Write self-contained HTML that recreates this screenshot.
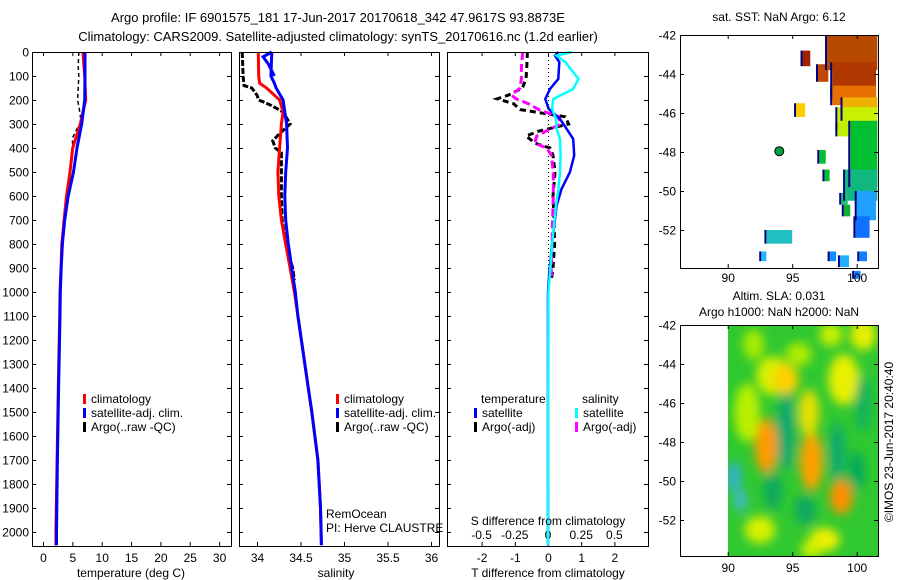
<!DOCTYPE html>
<html><head><meta charset="utf-8"><style>
body{margin:0;background:#fff}
svg{display:block;font-family:"Liberation Sans",sans-serif}
text{fill:#000}
</style></head><body>
<svg id="fig" width="900" height="580" xmlns="http://www.w3.org/2000/svg">
<defs>
<filter id="blur" x="-50%" y="-50%" width="200%" height="200%"><feGaussianBlur stdDeviation="5"/></filter>
<clipPath id="m2clip"><rect x="728" y="325" width="150" height="231"/></clipPath>
</defs>
<text x="338" y="22" font-size="13" text-anchor="middle">Argo profile: IF 6901575_181 17-Jun-2017 20170618_342 47.9617S 93.8873E</text>
<text x="338" y="41" font-size="13" text-anchor="middle">Climatology: CARS2009. Satellite-adjusted climatology: synTS_20170616.nc (1.2d earlier)</text>
<g id="plots"></g>
</svg>
<script>
// ---- data ----
const depthTicks=[0,100,200,300,400,500,600,700,800,900,1000,1100,1200,1300,1400,1500,1600,1700,1800,1900,2000];
const tempTicks=[0,5,10,15,20,25,30];
const salTicks=[34,34.5,35,35.5,36];
const salTickLabels=["34","34.5","35","35.5","36"];
const tdTicks=[-2,-1,0,1,2];
const sdTicks=[-0.5,-0.25,0,0.25,0.5];
const sdTickLabels=["-0.5","-0.25","0","0.25","0.5"];
const climDepth=[0,100,200,300,400,500,600,700,800,900,1000,1100,1400,1700,2000,2055];
const climTemp=[6.8,7.1,7.27,6.36,5.06,4.6,4.0,3.6,3.2,3.07,2.9,2.85,2.6,2.4,2.2,2.2];
const satTemp=[7.15,7.15,7.1,6.6,5.8,5.2,4.3,3.7,3.3,3.1,2.95,2.9,2.65,2.45,2.3,2.3];
const argoDepth=[0,60,100,150,200,240,290,320,360,400,450,500,600,700,800,900,950];
const argoTemp=[6.1,6.0,6.1,6.0,5.9,6.2,6.5,5.8,5.0,5.1,4.8,4.6,4.1,3.6,3.25,3.1,3.05];
const climSalDepth=[0,100,130,150,200,250,300,400,500,600,700,800,900,1000,1100,1400,1500,1700,1900,2055];
const climSal=[34.015,34.02,34.03,34.11,34.26,34.30,34.28,34.26,34.24,34.25,34.28,34.33,34.38,34.43,34.47,34.59,34.63,34.70,34.73,34.74];
const satSal=[34.17,34.16,34.2,34.22,34.30,34.32,34.34,34.35,34.33,34.32,34.33,34.36,34.40,34.44,34.47,34.59,34.63,34.70,34.73,34.74];
const satSalTopDepth=[0,20,50,100];
const satSalTop=[34.17,34.07,34.13,34.2];
const argoSalDepth=[0,100,140,150,180,200,220,250,300,340,370,400,420,500,600,700,800,900,950];
const argoSal=[33.83,33.84,33.85,33.94,34.0,34.02,34.15,34.30,34.38,34.26,34.18,34.21,34.28,34.28,34.28,34.29,34.33,34.41,34.43];
const diffDepth=[0,15,42,112,154,196,237,279,320,362,431,501,570,640,779,918,1000,2055];
const satTdiff=[0.31,0.21,0.34,0.31,0.06,-0.08,0.02,0.36,0.56,0.76,0.79,0.66,0.41,0.26,0.14,0.04,0.0,0.0];
const satSdiff=[0.18,0.065,0.13,0.23,0.19,0.04,0.03,0.06,0.065,0.09,0.095,0.09,0.078,0.06,0.035,0.015,0.003,0.0];
const argoDiffDepth=[0,60,110,150,180,195,215,240,270,300,330,350,380,400,430,500,600,700,800,900,950];
const argoTdiff=[-0.62,-0.64,-0.66,-0.77,-1.2,-1.53,-1.04,-0.84,0.52,0.62,-0.28,-0.66,-0.39,0.06,0.15,0.21,0.15,0.18,0.2,0.15,0.1];
const argoSdiff=[-0.19,-0.2,-0.2,-0.21,-0.275,-0.24,-0.15,-0.07,0.08,0.095,-0.015,-0.085,-0.1,-0.01,0.025,0.04,0.04,0.035,0.03,0.025,0.025];
const lonTicks=[90,95,100];
const latTicks=[-42,-44,-46,-48,-50,-52];
const argoLon=[94.0], argoLat=[-47.96];
// SST patches: lon0, lat0(top), lon1, lat1(bottom), colour
const sstLon0=[97.7,98.1,98.1,98.9,98.5,99.5,99.1,100.0,99.9,95.3,95.8,97.0,98.5,97.1,97.5,98.8,99.0,93.0,92.6,97.9,98.7,100.2,99.8];
const sstLat0=[-42.0,-43.4,-44.6,-45.2,-45.7,-46.4,-48.9,-50.0,-51.3,-45.5,-42.8,-43.5,-46.5,-47.9,-48.9,-50.1,-50.7,-52.0,-53.1,-53.1,-53.3,-53.1,-54.1];
const sstLon1=[101.6,101.5,101.5,101.6,101.6,101.6,101.6,101.5,101.0,96.0,96.4,97.8,99.5,97.6,97.9,99.3,99.5,95.0,93.0,98.4,99.4,100.8,100.3];
const sstLat1=[-43.8,-45.3,-45.6,-46.4,-46.9,-49.8,-50.5,-51.5,-52.4,-46.2,-43.6,-44.4,-47.2,-48.6,-49.5,-50.7,-51.3,-52.7,-53.6,-53.6,-53.9,-53.6,-54.5];
const sstCol=["#b84a00","#b03800","#e87000","#f0b000","#c8f000","#00c030","#10b880","#20a0ff","#1070ff","#ffcc00","#a02000","#c04800","#c0f000","#00c030","#00c030","#20c070","#10b030","#20c0c0","#20b8ff","#1090ff","#20b0ff","#1080ff","#1080ff"];
// SLA blobs: lon, lat, rx(deg), ry(deg), colour
const slaLon=[93.0,93.5,94.5,96.5,96.3,98.8,99.0,92.5,100.5,90.5,91.0,94.5,98.5,95.5,97.5,100.5,91.5,96.0,100.0,92.0,98.0,93.5,96.5];
const slaLat=[-48.2,-44.6,-44.8,-49.0,-46.5,-50.8,-44.8,-52.5,-42.5,-49.8,-51.0,-47.5,-48.5,-43.5,-53.0,-46.0,-46.5,-51.5,-49.5,-43.0,-42.5,-50.5,-53.5];
const slaRx=[0.9,1.3,1.0,0.9,0.8,0.9,1.2,1.2,1.0,0.5,0.5,0.7,0.6,1.0,1.2,0.6,1.0,0.8,0.6,0.8,0.9,0.7,0.8];
const slaRy=[1.4,1.0,0.8,1.5,1.2,0.9,1.3,0.7,0.8,0.8,0.6,2.0,1.5,0.6,0.6,1.5,1.5,0.8,1.0,0.8,0.6,1.0,0.5];
const slaCol=["#ff9a00","#d8f000","#ffd000","#ffa000","#e8e000","#ff9000","#e8f000","#d8f000","#e8f000","#30b0e0","#40b8c8","#10a870","#10a870","#b0ec00","#f0f000","#10b060","#b8f000","#10a860","#00a860","#a8ec00","#c8f000","#10a860","#d0f000"];

// ---- helpers ----
const NS="http://www.w3.org/2000/svg";
const root=document.getElementById('plots');
function mk(tag,attrs,parent,txt){const e=document.createElementNS(NS,tag);for(const k in attrs)e.setAttribute(k,attrs[k]);if(txt!==undefined)e.textContent=txt;(parent||root).appendChild(e);return e;}
const PT=52,PB=546;
const yD=d=>PT+(d)*0.24;
const xT=t=>43+t*5.87;
const xS=s=>257+(s-34)*87;
const xTd=t=>548+t*33.2;
const xSd=s=>548+s*4*33.2;
const mX=lon=>727.7+(lon-90)*12.9;
const m1Y=lat=>35+(-42-lat)*19.5;
const m2Y=lat=>325+(-42-lat)*19.5;

function line(xs,ys,col,w,dash,name){
  const p=xs.map((x,i)=>x.toFixed(1)+','+ys[i].toFixed(1)).join(' ');
  const e=mk('polyline',{points:p,fill:'none',stroke:col,'stroke-width':w,'stroke-dasharray':dash||'none'});
  
  
  return e;
}
function frame(x0,x1,y0,y1,name){
  const e=mk('rect',{x:x0+.5,y:y0+.5,width:x1-x0,height:y1-y0,fill:'none',stroke:'#000','stroke-width':1});
  
  
}
function depthAxis(x0,x1,labels){
  depthTicks.forEach(d=>{const y=yD(d)+.5;
    mk('line',{x1:x0,y1:y,x2:x0+4,y2:y,stroke:'#000'});
    mk('line',{x1:x1-4,y1:y,x2:x1,y2:y,stroke:'#000'});
    if(labels){const t=mk('text',{x:x0-3,y:y+4,'font-size':12,'text-anchor':'end'},root,String(d));
      
      }
  });
}
function xAxis(ticks,labels,fx,y0,y1,ly){
  ticks.forEach((v,i)=>{const x=fx(v)+.5;
    mk('line',{x1:x,y1:y1,x2:x,y2:y1-4,stroke:'#000'});
    mk('line',{x1:x,y1:y0,x2:x,y2:y0+4,stroke:'#000'});
    const t=mk('text',{x:x,y:ly,'font-size':12,'text-anchor':'middle'},root,labels[i]);
    
    
  });
}
function legend(x,y,items){
  items.forEach((it,i)=>{
    const r=mk('rect',{x:x,y:y+i*14-9,width:3,height:10,fill:it[0]});
    
    
    const t=mk('text',{x:x+8,y:y+i*14,'font-size':12},root,it[1]);
    
    
  });
}
function label(x,y,s,name,anchor,size){const t=mk('text',{x:x,y:y,'font-size':size||12,'text-anchor':anchor||'middle'},root,s);
  
  return t;}

// ---- panel 1: temperature ----
depthAxis(32,231,true);
xAxis(tempTicks,tempTicks.map(String),xT,PT,PB,562);
line(argoTemp.map(xT),argoDepth.map(yD),'#000',1.5,'4 3','argo-temperature-line');
line(climTemp.map(xT),climDepth.map(yD),'#f00',3,null,'climatology-temperature-line');
line(satTemp.map(xT),climDepth.map(yD),'#00f',3,null,'satellite-temperature-line');
frame(32,231,PT,PB,'temperature-panel');
label(131,577,'temperature (deg C)','temperature-axis-title');
legend(83,403,[['#f00','climatology'],['#00f','satellite-adj. clim.'],['#000','Argo(..raw -QC)']]);

// ---- panel 2: salinity ----
depthAxis(239,439,false);
xAxis(salTicks,salTickLabels,xS,PT,PB,562);
line(argoSal.map(xS),argoSalDepth.map(yD),'#000',3,'6 2','argo-salinity-line');
line(climSal.map(xS),climSalDepth.map(yD),'#f00',3,null,'climatology-salinity-line');
line(satSal.map(xS),climSalDepth.map(yD),'#00f',3,null,'satellite-salinity-line');
line(satSalTop.map(xS),satSalTopDepth.map(yD),'#00f',3,null,'satellite-salinity-surface');
frame(239,439,PT,PB,'salinity-panel');
label(336,577,'salinity','salinity-axis-title');
legend(336,403,[['#f00','climatology'],['#00f','satellite-adj. clim.'],['#000','Argo(..raw -QC)']]);
label(326,518,'RemOcean','float-project-label','start',12);
label(326,532,'PI: Herve CLAUSTRE','float-pi-label','start',12);

// ---- panel 3: differences ----
depthAxis(447,648,false);
tdTicks.forEach(v=>{const x=xTd(v)+.5;mk('line',{x1:x,y1:PB,x2:x,y2:PB-4,stroke:'#000'});mk('line',{x1:x,y1:PT,x2:x,y2:PT+4,stroke:'#000'});
  const t=mk('text',{x:x,y:562,'font-size':12,'text-anchor':'middle'},root,String(v));
  
  });
sdTicks.forEach((v,i)=>{const t=mk('text',{x:xSd(v),y:539,'font-size':12,'text-anchor':'middle'},root,sdTickLabels[i]);
  
  });
const zl=mk('line',{x1:548.5,y1:PT,x2:548.5,y2:PB,stroke:'#000','stroke-dasharray':'1 3'});


line(argoTdiff.map(xTd),argoDiffDepth.map(yD),'#000',3,'6 4','argo-t-diff-line');
line(argoSdiff.map(xSd),argoDiffDepth.map(yD),'#f0f',3,'8 4','argo-s-diff-line');
line(satTdiff.map(xTd),diffDepth.map(yD),'#00f',2.5,null,'satellite-t-diff-line');
line(satSdiff.map(xSd),diffDepth.map(yD),'#0ff',2.5,null,'satellite-s-diff-line');
frame(447,648,PT,PB,'difference-panel');
label(548,525,'S difference from climatology','s-diff-axis-title');
label(548,577,'T difference from climatology','t-diff-axis-title');
label(481,403,'temperature','legend-temperature-header','start');
label(582,403,'salinity','legend-salinity-header','start');
legend(474,417,[['#00f','satellite'],['#000','Argo(-adj)']]);
legend(575,417,[['#0ff','satellite'],['#f0f','Argo(-adj)']]);

// ---- map 1: SST ----
const g1=mk('g',{});


sstLon0.forEach((l,i)=>{
  const r=mk('rect',{x:mX(l),y:m1Y(sstLat0[i]),width:mX(sstLon1[i])-mX(l),height:m1Y(sstLat1[i])-m1Y(sstLat0[i]),fill:sstCol[i]},g1);
  
  
});
sstLon0.forEach((l,i)=>{
  mk('rect',{x:mX(l)-2,y:m1Y(sstLat0[i]),width:2,height:m1Y(sstLat1[i])-m1Y(sstLat0[i]),fill:'#000080'},g1);
});
argoLon.forEach((l,i)=>{const c=mk('circle',{cx:mX(l),cy:m1Y(argoLat[i]),r:4.5,fill:'#00a040',stroke:'#000','stroke-width':1});
  
  });
frame(680,878,35,268,'sst-map-frame');
label(779,21,'sat. SST: NaN Argo: 6.12','sst-map-title');

// ---- map 2: SLA ----
const g2=mk('g',{'clip-path':'url(#m2clip)'});


mk('rect',{x:728,y:325,width:150,height:231,fill:'#30c830'},g2);
const gb=mk('g',{filter:'url(#blur)'},g2);
slaLon.forEach((l,i)=>{const e=mk('ellipse',{cx:mX(l),cy:m2Y(slaLat[i]),rx:slaRx[i]*12.9,ry:slaRy[i]*19.5,fill:slaCol[i]},gb);
  
  });
frame(680,878,325,556,'sla-map-frame');
label(779,300,'Altim. SLA: 0.031','sla-map-title');
label(779,316,'Argo h1000: NaN h2000: NaN','sla-map-subtitle');

// map axes
[[35,268,m1Y,282],[325,556,m2Y,572]].forEach(([y0,y1,fy,ly])=>{
  lonTicks.forEach(v=>{const x=mX(v)+.5;mk('line',{x1:x,y1:y1,x2:x,y2:y1-4,stroke:'#000'});mk('line',{x1:x,y1:y0,x2:x,y2:y0+4,stroke:'#000'});
    const t=mk('text',{x:x,y:ly,'font-size':12,'text-anchor':'middle'},root,String(v));
    
    });
  latTicks.forEach(v=>{const y=fy(v)+.5;mk('line',{x1:680,y1:y,x2:684,y2:y,stroke:'#000'});mk('line',{x1:874,y1:y,x2:878,y2:y,stroke:'#000'});
    const t=mk('text',{x:676,y:y+4,'font-size':12,'text-anchor':'end'},root,String(v));
    
    });
});
const cr=label(0,0,'©IMOS 23-Jun-2017 20:40:40','imos-credit','middle',12);
cr.setAttribute('transform','translate(893,442) rotate(-90)');
</script>
</body></html>
